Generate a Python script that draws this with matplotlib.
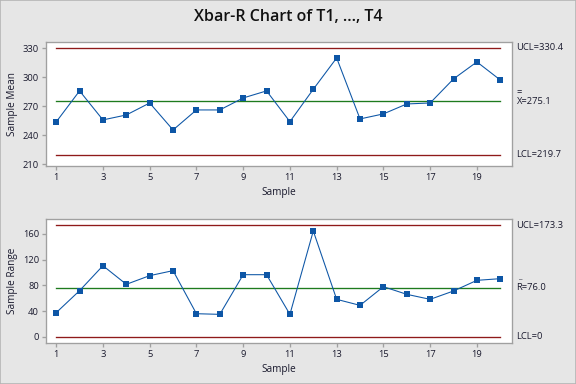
import matplotlib
matplotlib.use("Agg")
import matplotlib.pyplot as plt
from matplotlib.patches import Rectangle

plt.rcParams["font.family"] = ["Open Sans", "DejaVu Sans"]

# Data
samples = list(range(1, 21))
means = [253.8, 285.9, 255.9, 261.0, 273.4, 245.5, 266.2, 266.2, 278.6, 285.9,
         254.1, 287.6, 320.0, 256.9, 262.1, 272.4, 273.4, 298.3, 315.9, 297.2]
ranges = [37.4, 71.7, 110.6, 81.6, 95.1, 102.9, 35.8, 34.8, 96.6, 96.6,
          34.8, 164.7, 58.2, 48.8, 77.9, 66.0, 58.2, 71.2, 87.8, 90.4]
xbar_ucl, xbar_cl, xbar_lcl = 330.4, 275.1, 219.7
r_ucl, r_cl, r_lcl = 173.3, 76.0, 0.0
mean_ticks = [210, 240, 270, 300, 330]
range_ticks = [0, 40, 80, 120, 160]
x_ticks = list(range(1, 21, 2))

bg = "#e6e6e6"
limit_col = "#8f1a1a"
center_col = "#1e7b1e"
data_col = "#0d56a6"
spine_col = "#a0a0a0"
text_col = "#1a1a2e"

fig = plt.figure(figsize=(6, 4), dpi=96, facecolor=bg)
fig.patches.append(Rectangle((0, 0), 1, 1, transform=fig.transFigure, fill=False,
                             edgecolor="#b4b4b4", linewidth=1.2))
fig.text(0.5, 0.955, "Xbar-R Chart of T1, ..., T4", ha="center", va="center",
         fontsize=12, fontweight="semibold", color="#111111")

ax1 = fig.add_axes([0.0793, 0.5677, 0.8095, 0.3237])
ax2 = fig.add_axes([0.0793, 0.106, 0.8095, 0.3229])


def style(ax, ylabel, yticks, ylim):
    ax.set_facecolor("white")
    for side in ["top", "right", "left", "bottom"]:
        ax.spines[side].set_color(spine_col)
        ax.spines[side].set_linewidth(1.0)
    ax.set_xlim(0.55, 20.5)
    ax.set_ylim(*ylim)
    ax.set_xticks(x_ticks)
    ax.set_yticks(yticks)
    ax.tick_params(axis="both", colors=spine_col, labelcolor=text_col,
                   labelsize=7, length=3, width=1, pad=2)
    ax.set_xlabel("Sample", fontsize=7.5, color=text_col)
    ax.set_ylabel(ylabel, fontsize=7.5, color=text_col)
    ax.xaxis.set_label_coords(0.5, -0.17)
    ax.yaxis.set_label_coords(-0.06, 0.5)


def draw(ax, values, ucl, cl, lcl):
    ax.plot([samples[0], samples[-1]], [ucl, ucl], color=limit_col, lw=1.0)
    ax.plot([samples[0], samples[-1]], [lcl, lcl], color=limit_col, lw=1.0)
    ax.plot([samples[0], samples[-1]], [cl, cl], color=center_col, lw=1.0)
    ax.plot(samples, values, color=data_col, lw=0.8, marker="s",
            markersize=4.2, markeredgewidth=0)


style(ax1, "Sample Mean", mean_ticks, (208.2, 336.8))
draw(ax1, means, xbar_ucl, xbar_cl, xbar_lcl)
style(ax2, "Sample Range", range_ticks, (-10.3, 182.9))
draw(ax2, ranges, r_ucl, r_cl, r_lcl)

tx = 20.7
lab = dict(fontsize=7, color=text_col, va="center", ha="left", clip_on=False)
ax1.text(tx, xbar_ucl, f"UCL={xbar_ucl}", **lab)
ax1.text(tx, xbar_cl, f"X={xbar_cl}", **lab)
ax1.text(tx, xbar_cl + 9, "=", **lab)
ax1.text(tx, xbar_lcl, f"LCL={xbar_lcl}", **lab)
ax2.text(tx, r_ucl, f"UCL={r_ucl}", **lab)
ax2.text(tx, r_cl, f"R={r_cl}", **lab)
ax2.text(tx + 0.05, r_cl + 11, "_", fontsize=6, color=text_col, va="bottom",
         ha="left", clip_on=False)
ax2.text(tx, r_lcl, f"LCL={r_lcl:.0f}", **lab)

fig.savefig("out.png", dpi=96, facecolor=bg)
